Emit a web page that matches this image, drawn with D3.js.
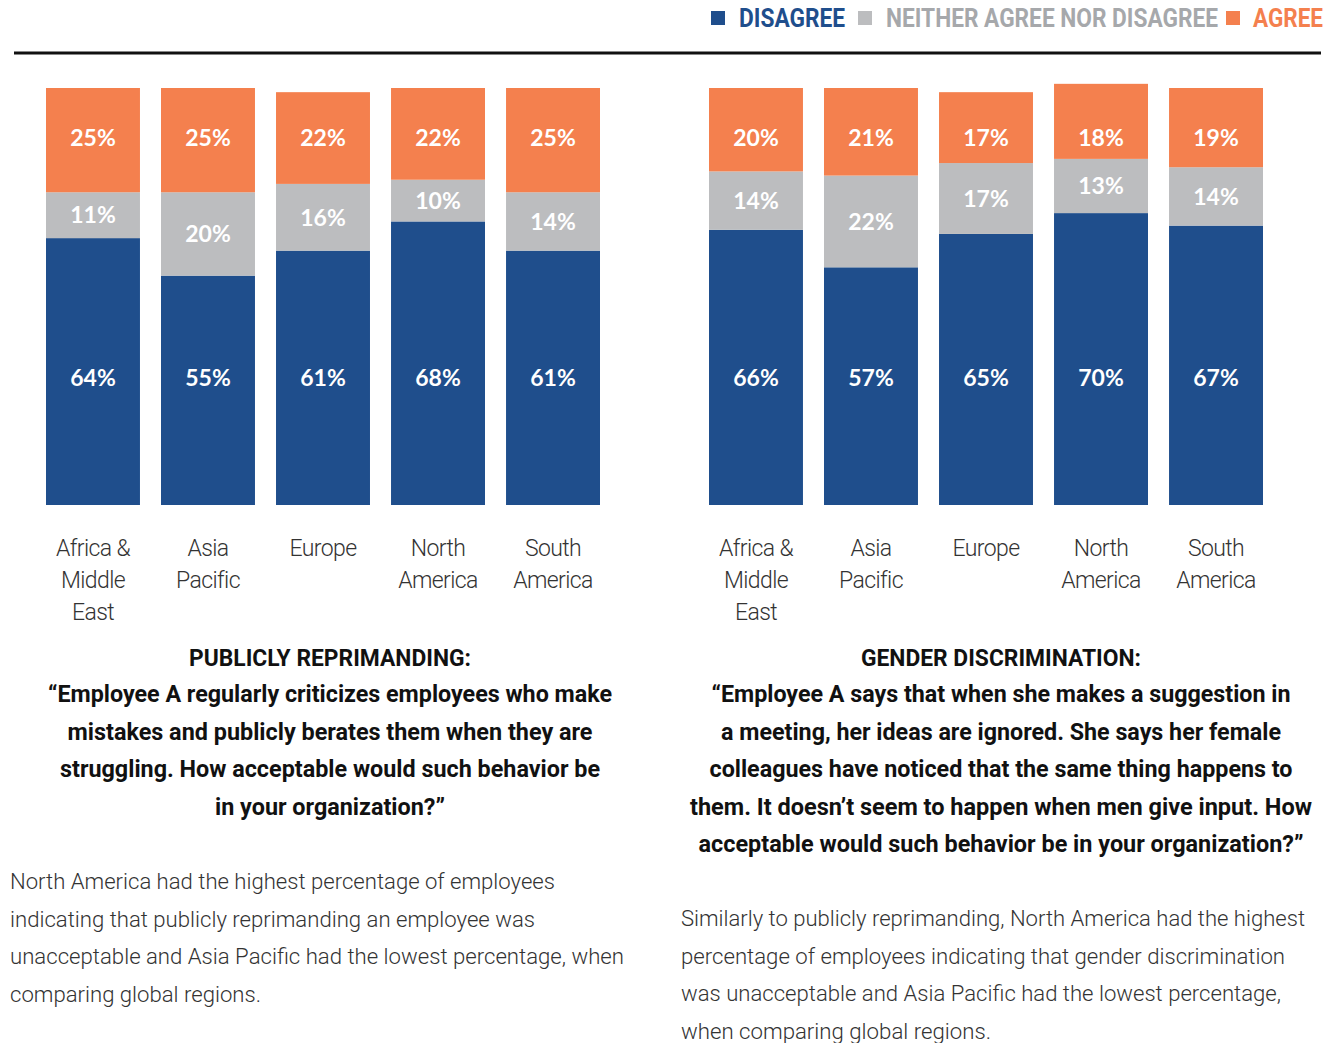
<!DOCTYPE html>
<html><head><meta charset="utf-8">
<script src="https://cdn.jsdelivr.net/npm/d3@7"></script>
<style>body{margin:0;background:#fff}svg{display:block}</style>
</head><body>
<svg id="c" width="1338" height="1043"></svg>
<script>
const categories = ["Africa & Middle East","Asia Pacific","Europe","North America","South America"];
const categoryLines = [["Africa &","Middle","East"],["Asia","Pacific"],["Europe"],["North","America"],["South","America"]];
const seriesNames = ["DISAGREE","NEITHER AGREE NOR DISAGREE","AGREE"];
const reprimandDisagree = [64,55,61,68,61];
const reprimandNeither = [11,20,16,10,14];
const reprimandAgree = [25,25,22,22,25];
const genderDisagree = [66,57,65,70,67];
const genderNeither = [14,22,17,13,14];
const genderAgree = [20,21,17,18,19];
const leftTitle = ["PUBLICLY REPRIMANDING:","“Employee A regularly criticizes employees who make","mistakes and publicly berates them when they are","struggling. How acceptable would such behavior be","in your organization?”"];
const rightTitle = ["GENDER DISCRIMINATION:","“Employee A says that when she makes a suggestion in","a meeting, her ideas are ignored. She says her female","colleagues have noticed that the same thing happens to","them. It doesn’t seem to happen when men give input. How","acceptable would such behavior be in your organization?”"];
const leftBody = ["North America had the highest percentage of employees","indicating that publicly reprimanding an employee was","unacceptable and Asia Pacific had the lowest percentage, when","comparing global regions."];
const rightBody = ["Similarly to publicly reprimanding, North America had the highest","percentage of employees indicating that gender discrimination","was unacceptable and Asia Pacific had the lowest percentage,","when comparing global regions."];

const colors = ["#1f4e8c","#bcbdbf","#f4804e"];
const legendText = ["#1f4e8c","#a6a8ab","#f4804e"];
const svg = d3.select("#c");

// legend
const legX = [711,858,1226], legTxtX=[739,886,1253], legW=[106,332,70];
seriesNames.forEach((s,i)=>{
  svg.append("rect").attr("x",legX[i]).attr("y",11).attr("width",14).attr("height",14).attr("fill",colors[i]);
  svg.append("text").attr("x",legTxtX[i]).attr("y",27).text(s)
    .attr("font-family","Roboto").attr("font-weight",700).attr("font-size",25).attr("fill",legendText[i])
    .attr("textLength",legW[i]).attr("lengthAdjust","spacingAndGlyphs");
});
svg.append("line").attr("x1",14).attr("x2",1321).attr("y1",53).attr("y2",53).attr("stroke","#111").attr("stroke-width",3);

const y = d3.scaleLinear().domain([0,100]).range([505,88]);

function panel(x0, dis, neu, agr, titles, titleW, cx, body, bodyW, bodyY0){
  const x = d3.scaleBand().domain(categories).range([x0, x0+554]).paddingInner(0.183).paddingOuter(0);
  const data = categories.map((c,i)=>({c, v:[dis[i],neu[i],agr[i]]}));
  const g = svg.append("g");
  data.forEach(d=>{
    let acc=0;
    d.v.forEach((v,k)=>{
      const y0=acc, y1=acc+v; acc=y1;
      g.append("rect").attr("x",x(d.c)).attr("width",x.bandwidth())
        .attr("y",y(y1)).attr("height",y(y0)-y(y1)).attr("fill",colors[k]);
      const cy = k===0 ? y(30.5) : k===2 ? y(88) : (y(y0)+y(y1))/2;
      g.append("text").attr("x",x(d.c)+x.bandwidth()/2).attr("y",cy).attr("dy","0.36em")
        .attr("text-anchor","middle").attr("fill","#fff").attr("font-family","Lato")
        .attr("font-weight",700).attr("font-size",23).text(v+"%");
    });
  });
  categories.forEach((c,i)=>{
    categoryLines[i].forEach((ln,j)=>{
      g.append("text").attr("x",x(c)+x.bandwidth()/2).attr("y",556+j*32).attr("text-anchor","middle")
        .attr("font-family","Roboto").attr("font-weight",300).attr("font-size",23).attr("letter-spacing",-0.6)
        .attr("fill","#333").text(ln);
    });
  });
  titles.forEach((t,j)=>{
    const yy = j===0 ? 666 : 702 + (j-1)*37.5;
    g.append("text").attr("x",cx).attr("y",yy).attr("text-anchor","middle")
      .attr("font-family","Roboto").attr("font-weight",700).attr("font-size",24).attr("fill","#111").text(t)
      .attr("textLength",titleW[j]).attr("lengthAdjust","spacingAndGlyphs");
  });
  body.forEach((t,j)=>{
    g.append("text").attr("x",bodyW.x).attr("y",bodyY0+j*37.5)
      .attr("font-family","Roboto").attr("font-weight",300).attr("font-size",22.5).attr("fill","#333").text(t)
      .attr("textLength",bodyW.w[j]).attr("lengthAdjust","spacingAndGlyphs");
  });
}
panel(46, reprimandDisagree, reprimandNeither, reprimandAgree, leftTitle, [282,564,525,540,230], 330, leftBody, {x:10,w:[545,525,614,251]}, 889);
panel(709, genderDisagree, genderNeither, genderAgree, rightTitle, [280,579,560,583,622,605], 1001, rightBody, {x:681,w:[624,604,600,310]}, 926);
</script>
</body></html>
